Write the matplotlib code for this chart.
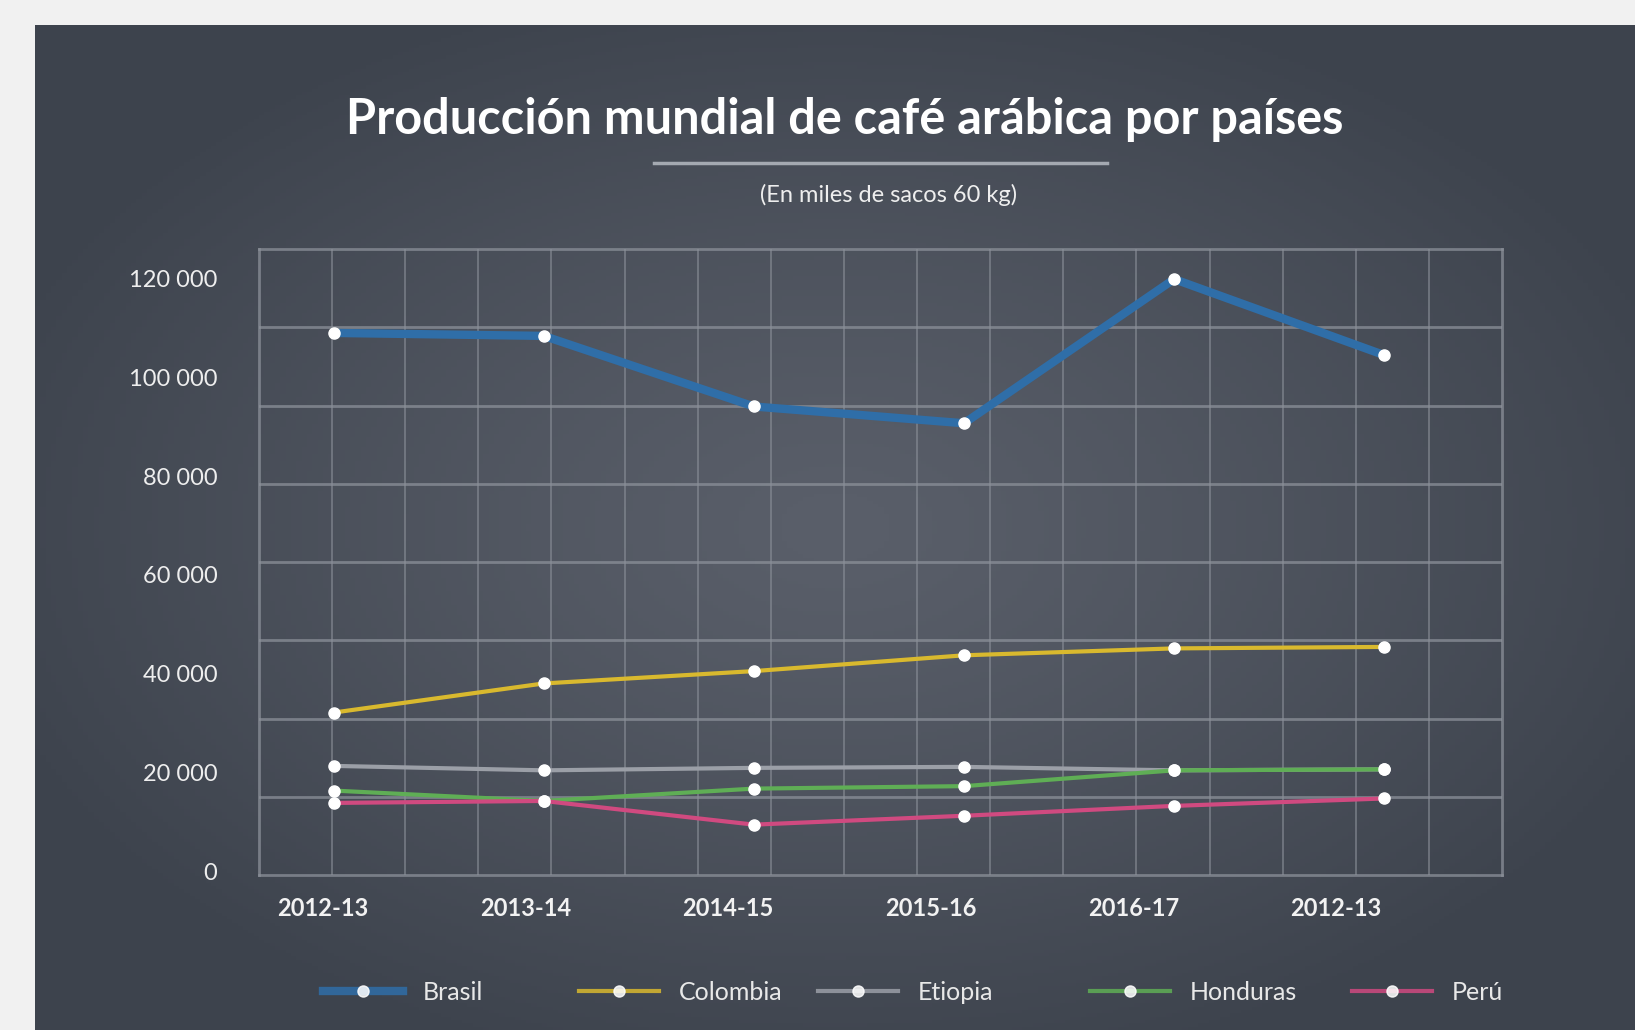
import matplotlib.pyplot as plt
import numpy as np
from matplotlib.lines import Line2D

plt.rcParams["font.family"] = ["Lato", "DejaVu Sans"]

# values (miles de sacos de 60 kg)
seasons = ["2012-13", "2013-14", "2014-15", "2015-16", "2016-17", "2012-13"]
brasil = [109000, 108400, 94100, 90700, 119900, 104500]
colombia = [32100, 38000, 40500, 43700, 45100, 45400]
etiopia = [21300, 20400, 20900, 21100, 20400, 20600]
honduras = [16300, 14200, 16700, 17200, 20400, 20600]
peru = [13800, 14200, 9400, 11200, 13200, 14700]

series_names = ["Brasil", "Colombia", "Etiopia", "Honduras", "Perú"]
series_values = [brasil, colombia, etiopia, honduras, peru]
series_colors = ["#2f6ea8", "#d9b92e", "#9b9fa7", "#5fae55", "#d04a80"]
series_widths = [6.0, 3.0, 3.0, 3.0, 3.0]

y_ticks = [0, 20000, 40000, 60000, 80000, 100000, 120000]
y_tick_labels = ["0", "20 000", "40 000", "60 000", "80 000", "100 000", "120 000"]

W, H = 1635, 1030
fig = plt.figure(figsize=(W / 100, H / 100), dpi=100)
fig.patch.set_facecolor("#f1f1f1")

# dark panel with a soft radial glow
bg = fig.add_axes([35 / W, 0, 1 - 35 / W, 1 - 25 / H])
bg.set_axis_off()
yy, xx = np.mgrid[0:1:300j, 0:1:300j]
r = np.sqrt(((xx - 0.5) / 0.75) ** 2 + ((yy - 0.5) / 0.75) ** 2)
r = np.clip(r / 0.75, 0, 1) ** 1.2
dark = np.array([0x3d, 0x43, 0x4d]) / 255
light = np.array([0x5a, 0x5f, 0x6a]) / 255
img = light[None, None, :] * (1 - r[..., None]) + dark[None, None, :] * r[..., None]
bg.imshow(img, extent=(0, 1, 0, 1), aspect="auto", origin="lower")
bg.set_xlim(0, 1)
bg.set_ylim(0, 1)

ax = fig.add_axes([259 / W, 1 - 875 / H, (1502 - 259) / W, (875 - 249) / H])
ax.set_facecolor("none")
x = np.arange(len(seasons))
ax.set_xlim(-0.355, 5.56)
ax.set_ylim(-800, 126000)

grid_color = "#8b9099"
for i in range(1, 17):
    ax.plot([i / 17, i / 17], [0, 1], transform=ax.transAxes,
            color=grid_color, lw=1.1, alpha=0.75, zorder=1)
for j in range(1, 8):
    ax.plot([0, 1], [j / 8, j / 8], transform=ax.transAxes,
            color=grid_color, lw=2.0, alpha=0.75, zorder=1)
for spine in ax.spines.values():
    spine.set_color(grid_color)
    spine.set_linewidth(2.0)
    spine.set_alpha(0.75)

for name, values, color, lw in zip(series_names, series_values,
                                   series_colors, series_widths):
    ax.plot(x, values, color=color, lw=lw, marker="o", markersize=8,
            markerfacecolor="white", markeredgecolor="white",
            solid_capstyle="round", zorder=3)

# season labels sit a little left of their points, drifting further right-to-left
ax.set_xticks(x - 0.05 - 0.036 * x)
ax.set_xticklabels(seasons, fontsize=17, fontweight="bold", color="#f2f2f2")
ax.set_yticks(y_ticks)
ax.set_yticklabels(y_tick_labels, fontsize=17, color="#eeeeee")
ax.tick_params(axis="x", length=0, pad=16)
ax.tick_params(axis="y", length=0, pad=30)

fig.text(845 / W, 1 - 120 / H, "Producción mundial de café arábica por países",
         ha="center", va="center", fontsize=35, fontweight="bold", color="white")
fig.add_artist(Line2D([654 / W, 1107 / W], [1 - 163 / H, 1 - 163 / H],
                      color="#a4a9b1", lw=2.5))
fig.text(889 / W, 1 - 195 / H, "(En miles de sacos 60 kg)",
         ha="center", va="center", fontsize=17, color="#eeeeee")

legend_x = [323, 579, 818, 1090, 1352]
for name, color, lw, lx in zip(series_names, series_colors, series_widths, legend_x):
    handle = Line2D([], [], color=color, lw=lw, marker="o", markersize=8,
                    markerfacecolor="white", markeredgecolor="white", alpha=0.85)
    fig.legend([handle], [name], loc="center left",
               bbox_to_anchor=(lx / W, 1 - 992 / H), frameon=False,
               fontsize=18, labelcolor="#e8e8e8", handlelength=3.2,
               handletextpad=0.8, borderpad=0, borderaxespad=0)

fig.savefig("out.png", dpi=100, facecolor=fig.get_facecolor())
